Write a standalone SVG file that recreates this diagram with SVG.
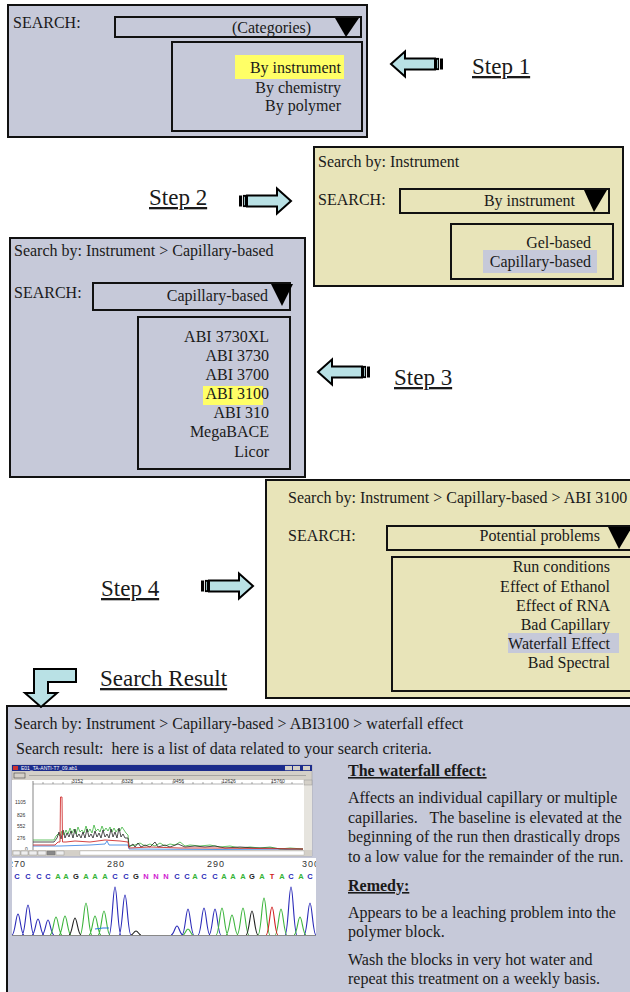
<svg xmlns="http://www.w3.org/2000/svg" width="630" height="992" viewBox="0 0 630 992">
<style>
text{font-family:"Liberation Serif","Times New Roman",serif;font-size:16px;fill:#1a1a1a;white-space:pre}
.blue{fill:#C6C9D9;stroke:#111;stroke-width:2}
.khaki{fill:#E8E4B9;stroke:#111;stroke-width:2}
.box{fill:none;stroke:#111;stroke-width:2}
.tri{fill:#000}
.end{text-anchor:end}
.step{font-size:23px;text-decoration:underline}
.arrow{fill:#B9E1E5;stroke:#000;stroke-width:2;stroke-linejoin:miter}
.hdr{font-weight:bold;text-decoration:underline}
.tiny{font-family:"Liberation Sans",Arial,sans-serif;font-size:5px;fill:#333}
.seq{font-family:"Liberation Sans",Arial,sans-serif;font-size:7.5px;font-weight:bold;text-anchor:middle}
.C{fill:#2a2ab8}.A{fill:#33b433}.G{fill:#222}.N{fill:#d020d0}.T{fill:#d02020}
.pk{fill:none;stroke-width:1.1}
</style>
<defs>
<g id="rarrow">
<rect x="0" y="-5.5" width="3" height="11" fill="#000"/>
<rect x="4.5" y="-5.5" width="2" height="11" fill="#B9E1E5" stroke="#000" stroke-width="1.2"/>
<polygon class="arrow" points="8,-5.5 38,-5.5 38,-12.5 52,0 38,12.5 38,5.5 8,5.5"/>
</g>
<clipPath id="seqclip"><rect x="12" y="858" width="304" height="80"/></clipPath>
</defs>
<rect width="630" height="992" fill="#fff"/>

<!-- Panel 1 -->
<g id="panel1">
<rect class="blue" x="8" y="5" width="359" height="132"/>
<text x="13" y="28">SEARCH:</text>
<rect class="box" x="115" y="17" width="246" height="20"/>
<text x="232" y="33">(Categories)</text>
<polygon class="tri" points="335,18 359,18 346,37"/>
<rect class="box" x="172" y="42" width="190" height="89"/>
<rect x="235" y="55" width="109" height="24" fill="#FFFF66"/>
<text class="end" x="341" y="73">By instrument</text>
<text class="end" x="341" y="93">By chemistry</text>
<text class="end" x="341" y="111">By polymer</text>
</g>

<!-- Panel 2 -->
<g id="panel2">
<rect class="khaki" x="314" y="147" width="309" height="139"/>
<text x="318" y="167">Search by: Instrument</text>
<text x="318" y="205">SEARCH:</text>
<rect class="box" x="400" y="189" width="209" height="24"/>
<text class="end" x="575" y="206">By instrument</text>
<polygon class="tri" points="584,190 607,190 594,212"/>
<rect class="box" x="451" y="224" width="162" height="55"/>
<text class="end" x="591" y="248">Gel-based</text>
<rect x="483" y="250" width="114" height="23" fill="#C6C9D9"/>
<text class="end" x="591" y="267">Capillary-based</text>
</g>

<!-- Panel 3 -->
<g id="panel3">
<rect class="blue" x="10" y="238" width="295" height="239"/>
<text x="14" y="256">Search by: Instrument &gt; Capillary-based</text>
<text x="14" y="298">SEARCH:</text>
<rect class="box" x="93" y="283" width="197" height="27"/>
<text class="end" x="268" y="301">Capillary-based</text>
<polygon class="tri" points="271,284 293,284 282,306"/>
<rect class="box" x="138" y="317" width="152" height="152"/>
<rect x="203" y="386" width="60" height="19" fill="#FFFF66"/>
<text class="end" x="269" y="342">ABI 3730XL</text>
<text class="end" x="269" y="361">ABI 3730</text>
<text class="end" x="269" y="380">ABI 3700</text>
<text class="end" x="269" y="399">ABI 3100</text>
<text class="end" x="269" y="418">ABI 310</text>
<text class="end" x="269" y="437">MegaBACE</text>
<text class="end" x="269" y="457">Licor</text>
</g>

<!-- Panel 4 -->
<g id="panel4">
<rect class="khaki" x="266" y="480" width="380" height="218"/>
<text x="288" y="503">Search by: Instrument &gt; Capillary-based &gt; ABI 3100</text>
<text x="288" y="541">SEARCH:</text>
<rect class="box" x="387" y="526" width="260" height="24"/>
<text class="end" x="600" y="541">Potential problems</text>
<polygon class="tri" points="608,527 632,527 619,549"/>
<rect class="box" x="392" y="557" width="260" height="134"/>
<rect x="508" y="633" width="111" height="20" fill="#C6C9D9"/>
<text class="end" x="610" y="572">Run conditions</text>
<text class="end" x="610" y="592">Effect of Ethanol</text>
<text class="end" x="610" y="611">Effect of RNA</text>
<text class="end" x="610" y="630">Bad Capillary</text>
<text class="end" x="610" y="649">Waterfall Effect</text>
<text class="end" x="610" y="668">Bad Spectral</text>
</g>

<!-- Step labels -->
<g id="step1"><text class="step" x="472" y="74">Step 1</text></g>
<g id="step2"><text class="step" x="149" y="205">Step 2</text></g>
<g id="step3"><text class="step" x="394" y="385">Step 3</text></g>
<g id="step4"><text class="step" x="101" y="596">Step 4</text></g>
<g id="searchresult"><text class="step" x="100" y="686">Search Result</text></g>

<!-- Panel 5 -->
<g id="panel5">
<rect class="blue" x="7" y="706" width="640" height="300"/>
<text x="14" y="729">Search by: Instrument &gt; Capillary-based &gt; ABI3100 &gt; waterfall effect</text>
<text x="16" y="754">Search result:  here is a list of data related to your search criteria.</text>

<!-- electropherogram screenshot -->
<g id="epg">
<rect x="12" y="765" width="300" height="91" fill="#D4D0C8" stroke="#999" stroke-width="0.5"/>
<rect x="12" y="765" width="300" height="6" fill="#1C2C8C"/>
<rect x="13" y="766" width="5" height="4" fill="#c33"/>
<text x="21" y="770" class="tiny" style="fill:#fff">E01_TA-ANTI-T7_09.ab1</text>
<rect x="285" y="766" width="7" height="4.2" fill="#D4D0C8"/>
<rect x="293" y="766" width="7" height="4.2" fill="#D4D0C8"/>
<rect x="303" y="766" width="7" height="4.2" fill="#D4D0C8"/>
<rect x="14" y="773" width="11" height="5" fill="#D4D0C8" stroke="#444" stroke-width="0.6"/>
<line x1="29" y1="775.5" x2="306" y2="775.5" stroke="#888" stroke-width="0.6"/>
<rect x="12" y="780" width="292" height="70" fill="#fff"/>
<rect x="304" y="780" width="8" height="70" fill="#E6E4DE"/>
<rect x="304" y="780" width="8" height="5" fill="#D4D0C8" stroke="#888" stroke-width="0.4"/>
<line x1="33" y1="781" x2="33" y2="850" stroke="#333" stroke-width="0.6"/>
<line x1="33" y1="784" x2="303" y2="784" stroke="#666" stroke-width="0.5"/>
<path d="M43 784v-2M53 784v-2M63 784v-2M72 784v-3M82 784v-2M92 784v-2M102 784v-2M112 784v-2M122 784v-3M132 784v-2M142 784v-2M152 784v-2M162 784v-2M173 784v-3M183 784v-2M193 784v-2M203 784v-2M212 784v-2M222 784v-3M232 784v-2M242 784v-2M252 784v-2M262 784v-2M272 784v-3M282 784v-2M292 784v-2" stroke="#555" stroke-width="0.5"/>
<text class="tiny" x="72" y="783">3152</text>
<text class="tiny" x="122" y="783">6328</text>
<text class="tiny" x="173" y="783">9456</text>
<text class="tiny" x="222" y="783">12626</text>
<text class="tiny" x="271" y="783">15760</text>
<text class="tiny" x="15" y="804">1105</text>
<text class="tiny" x="17" y="817">826</text>
<text class="tiny" x="17" y="828">552</text>
<text class="tiny" x="17" y="840">276</text>
<text class="tiny" x="25" y="851">0</text>
<polyline fill="none" stroke="#2b7be0" stroke-width="0.8" points="33,846 60,846 90,845 105,844 107,841 109,845 128,845 129,849 303,850"/>
<polyline fill="none" stroke="#3cb43c" stroke-width="0.8" points="33,840 54,840 56,836 58,834 60,836 62,831 64,835 66,830 68,834 70,828 72,833 74,829 76,834 78,827 80,832 82,830 84,833 86,826 88,832 90,829 92,833 94,825 96,831 98,829 100,832 102,826 104,831 106,828 108,831 110,827 112,832 114,828 116,832 118,829 120,831 122,827 124,830 126,833 128,835 129,846 135,845 140,843 145,846 150,844 155,846 160,843 165,846 170,844 175,845 180,842 185,846 190,845 200,846 210,845 220,847 230,846 240,848 250,847 260,848 270,847 280,849 290,848 303,849"/>
<polyline fill="none" stroke="#222" stroke-width="0.8" points="33,842 54,842 57,838 59,832 61,839 63,830 65,838 67,833 69,837 71,831 73,838 75,829 77,837 79,834 81,838 83,832 85,838 87,829 89,837 91,834 93,838 95,831 97,837 99,833 101,838 103,830 105,837 107,834 109,838 111,829 113,837 115,832 117,838 119,828 121,837 123,834 125,838 128,838 129,847 133,844 135,847 138,843 141,847 145,845 150,847 155,842 158,847 165,845 170,847 178,844 185,847 195,846 205,847 215,846 225,848 240,847 255,848 270,848 285,849 303,849"/>
<polyline fill="none" stroke="#d03030" stroke-width="0.9" points="33,845 55,845 58,842 60,842 60.5,797 62,797 62.5,842 66,842 75,841 90,842 105,840 120,841 128,842 129,848 150,847 180,848 210,848 303,849"/>
<rect x="12" y="850" width="300" height="6" fill="#D4D0C8"/>
<rect x="13" y="851" width="7" height="4" fill="#eee" stroke="#666" stroke-width="0.3"/>
<rect x="21" y="851" width="7" height="4" fill="#eee" stroke="#666" stroke-width="0.3"/>
<rect x="29" y="851" width="8" height="4" fill="#eee" stroke="#666" stroke-width="0.3"/>
<rect x="38" y="851" width="8" height="4" fill="#eee" stroke="#666" stroke-width="0.3"/>
<rect x="47" y="851" width="8" height="4" fill="#888" stroke="#666" stroke-width="0.3"/>
<rect x="56" y="851" width="8" height="4" fill="#eee" stroke="#666" stroke-width="0.3"/>
<rect x="80" y="851" width="224" height="4" fill="#fff" stroke="#999" stroke-width="0.3"/>
</g>

<!-- sequence trace -->
<g id="seqtrace" clip-path="url(#seqclip)">
<rect x="12" y="858" width="304" height="78" fill="#fff"/>
<g style="font-family:'Liberation Sans',Arial,sans-serif;font-size:9px;fill:#333;letter-spacing:1px">
<text x="8" y="867" style="font-family:'Liberation Sans',Arial,sans-serif;font-size:9px;fill:#333">270</text>
<text x="107" y="867" style="font-family:'Liberation Sans',Arial,sans-serif;font-size:9px;fill:#333">280</text>
<text x="207" y="867" style="font-family:'Liberation Sans',Arial,sans-serif;font-size:9px;fill:#333">290</text>
<text x="302" y="867" style="font-family:'Liberation Sans',Arial,sans-serif;font-size:9px;fill:#333">300</text>
</g>
<text class="seq C" x="17" y="879">C</text><text class="seq C" x="28" y="879">C</text><text class="seq C" x="39" y="879">C</text><text class="seq C" x="48" y="879">C</text>
<text class="seq A" x="58" y="879">A</text><text class="seq A" x="66" y="879">A</text><text class="seq G" x="76" y="879">G</text>
<text class="seq A" x="86" y="879">A</text><text class="seq A" x="95" y="879">A</text><text class="seq A" x="105" y="879">A</text>
<text class="seq C" x="115" y="879">C</text><text class="seq C" x="126" y="879">C</text><text class="seq G" x="136" y="879">G</text>
<text class="seq N" x="146" y="879">N</text><text class="seq N" x="156" y="879">N</text><text class="seq N" x="166" y="879">N</text>
<text class="seq C" x="177" y="879">C</text><text class="seq C" x="187" y="879">C</text><text class="seq A" x="195" y="879">A</text><text class="seq C" x="204" y="879">C</text>
<text class="seq C" x="215" y="879">C</text><text class="seq A" x="224" y="879">A</text><text class="seq A" x="233" y="879">A</text><text class="seq A" x="243" y="879">A</text>
<text class="seq G" x="252" y="879">G</text><text class="seq A" x="262" y="879">A</text><text class="seq T" x="272" y="879">T</text><text class="seq A" x="282" y="879">A</text>
<text class="seq C" x="291" y="879">C</text><text class="seq A" x="301" y="879">A</text><text class="seq C" x="310" y="879">C</text>
<path class="pk" stroke="#2a2ab8" d="M12 935C15 935 16 914 18 914C20 914 21 935 24 935M22 935C25 935 26 905 28 905C30 905 31 935 34 935M32 935C35 935 36 919 38 919C40 919 41 935 44 935M42 935C45 935 46 920 48 920C50 920 51 935 54 935M109 935C112 935 113 887 115 887C117 887 118 935 121 935M119 935C122 935 123 895 125 895C127 895 128 935 131 935M171 935C174 935 175 926 177 926C179 926 180 935 183 935M182 935C185 935 186 909 188 909C190 909 191 935 194 935M198 935C201 935 202 908 204 908C206 908 207 935 210 935M209 935C212 935 213 909 215 909C217 909 218 935 221 935M285 935C288 935 289 887 291 887C293 887 294 935 297 935M304 935C307 935 308 903 310 903C312 903 313 935 316 935"/>
<path class="pk" stroke="#3cb43c" d="M50 935C53 935 54 917 56 917C58 917 59 935 62 935M59 935C62 935 63 916 65 916C67 916 68 935 71 935M80 935C83 935 84 903 86 903C88 903 89 935 92 935M89 935C92 935 93 916 95 916C97 916 98 935 101 935M98 935C101 935 102 911 104 911C106 911 107 935 110 935M183 935C185 935 186 929 188 929C190 929 191 935 193 935M216 935C219 935 220 908 222 908C224 908 225 935 228 935M226 935C229 935 230 915 232 915C234 915 235 935 238 935M237 935C240 935 241 908 243 908C245 908 246 935 249 935M258 935C261 935 262 898 264 898C266 898 267 935 270 935M275 935C278 935 279 909 281 909C283 909 284 935 287 935M294 935C297 935 298 917 300 917C302 917 303 935 306 935"/>
<path class="pk" stroke="#222" d="M69 935C72 935 73 918 75 918C77 918 78 935 81 935M131 935C133 935 134 931 136 931C138 931 139 935 141 935M246 935C249 935 250 911 252 911C254 911 255 935 258 935"/>
<path class="pk" stroke="#d02020" d="M266 935C269 935 270 907 272 907C274 907 275 935 278 935"/>
<path class="pk" stroke="#2a7ae0" stroke-width="0.8" d="M95 929L103 928L109 928"/>
<line x1="12" y1="935.5" x2="316" y2="935.5" stroke="#888" stroke-width="1"/>
</g>

<text class="hdr" x="348" y="776">The waterfall effect:</text>
<text x="348" y="803">Affects an individual capillary or multiple</text>
<text x="348" y="823">capillaries.   The baseline is elevated at the</text>
<text x="348" y="842">beginning of the run then drastically drops</text>
<text x="348" y="862">to a low value for the remainder of the run.</text>
<text class="hdr" x="348" y="891">Remedy:</text>
<text x="348" y="918">Appears to be a leaching problem into the</text>
<text x="348" y="937">polymer block.</text>
<text x="348" y="965">Wash the blocks in very hot water and</text>
<text x="348" y="984">repeat this treatment on a weekly basis.</text>
</g>

<!-- Connectors -->
<g id="connectors">
<use href="#rarrow" transform="translate(443,64) scale(-1,1)"/>
<use href="#rarrow" transform="translate(239,201)"/>
<use href="#rarrow" transform="translate(370,372) scale(-1,1)"/>
<use href="#rarrow" transform="translate(201,586)"/>
<polygon class="arrow" points="34,669 76,669 76,682 48,682 48,693 57,693 41,707 25,693 34,693"/>
</g>
</svg>
